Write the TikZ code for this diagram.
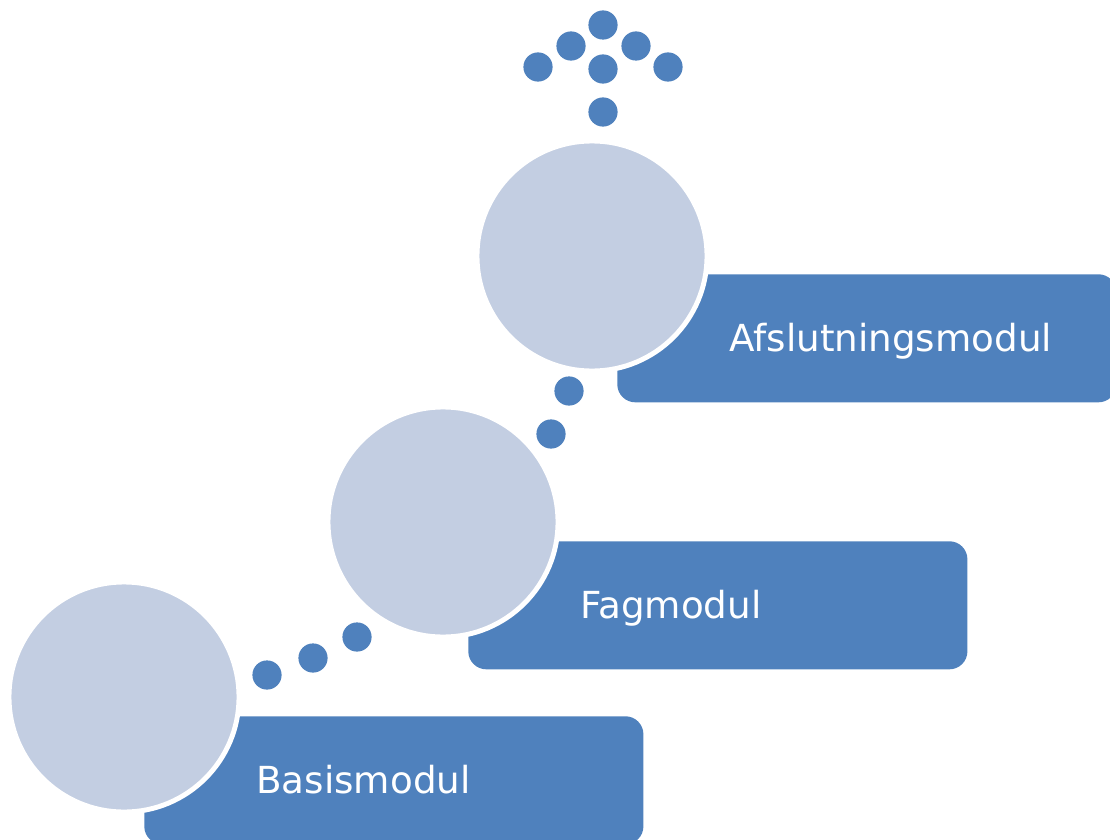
\documentclass[tikz,border=0pt]{standalone}
\usepackage{fontspec}
\setmainfont{DejaVu Sans}
\definecolor{modblue}{HTML}{4F81BD}
\definecolor{modgrey}{HTML}{C3CEE2}
\tikzset{
    modbox/.style={rectangle, fill=modblue, rounded corners=0.45cm, minimum width=12.475cm, minimum height=3.2cm, anchor=north west},
    modcircle/.style={circle, draw=white, line width=3.5pt, fill=modgrey, minimum size=5.75cm},
    modlabel/.style={text=white, font=\fontsize{26.5}{31}\selectfont, anchor=base west, inner sep=0pt},
    stepdot/.style={circle, fill=modblue, minimum size=0.73cm, inner sep=0pt}
}
\begin{document}
\begin{tikzpicture}[x=0.025cm, y=-0.025cm]
        \useasboundingbox (0,0) rectangle (1110,840);
        \clip (0,0) rectangle (1110,840);
        % boxes behind the circles
        \node[modbox] (basisbox) at (144,716) {};
        \node[modbox] (fagbox) at (468,541) {};
        \node[modbox] (afslbox) at (617,274) {};
        \node[modlabel] (basistext) at ([xshift=2.8cm, yshift=-0.34cm]basisbox.west) {Basismodul};
        \node[modlabel] (fagtext) at ([xshift=2.8cm, yshift=-0.34cm]fagbox.west) {Fagmodul};
        \node[modlabel] (afsltext) at ([xshift=2.8cm, yshift=-0.34cm]afslbox.west) {Afslutningsmodul};
        % circles
        \node[modcircle] (basis) at (124,697) {};
        \node[modcircle] (fag) at (443,522) {};
        \node[modcircle] (afsl) at (592,256) {};
        % dots between the steps and the arrow on top
        \foreach \x/\y [count=\i] in {267/675, 313/658, 357/637, 551/434, 569/391,
                                      603/112, 538/67, 603/69, 668/67, 571/46, 636/46, 603/25}
            \node[stepdot] (dot\i) at (\x,\y) {};
\end{tikzpicture}
\end{document}
